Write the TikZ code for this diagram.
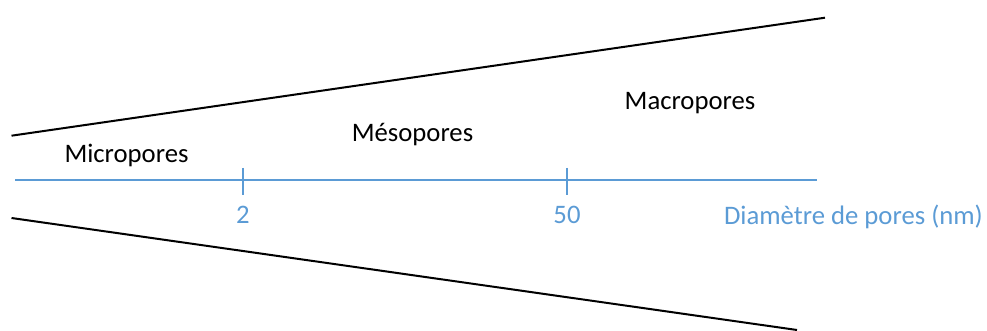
\documentclass[tikz,border=0pt]{standalone}
\usepackage{fontspec}
\setmainfont{Carlito}
\definecolor{axisblue}{HTML}{5B9BD5}
\tikzset{
  blackline/.style={draw=black, line width=2pt},
  axisline/.style={draw=axisblue, line width=1.8pt},
  lbl/.style={anchor=base, inner sep=0pt, font=\fontsize{26.7}{30}\selectfont},
  bluelbl/.style={lbl, text=axisblue},
}
\begin{document}
\begin{tikzpicture}[x=1pt,y=-1pt]
\useasboundingbox (0,0) rectangle (987,331);
\coordinate (tl) at (11.5,135.7);
\coordinate (tr) at (825,17.7);
\coordinate (bl) at (11.5,218);
\coordinate (br) at (797,330);
\coordinate (al) at (15,180);
\coordinate (ar) at (817,180);
\coordinate (t1a) at (243,168);
\coordinate (t1b) at (243,195);
\coordinate (t2a) at (567,168);
\coordinate (t2b) at (567,195);
\draw[blackline] (tl) -- (tr);
\draw[blackline] (bl) -- (br);
\draw[axisline] (al) -- (ar);
\draw[axisline] (t1a) -- (t1b);
\draw[axisline] (t2a) -- (t2b);
\node[lbl] (micro) at (126.5,162.7) {Micropores};
\node[lbl] (meso) at (412.5,141.7) {Mésopores};
\node[lbl] (macro) at (690,110) {Macropores};
\node[bluelbl] (n2) at (243,223.3) {2};
\node[bluelbl] (n50) at (567,223.3) {50};
\node[bluelbl, anchor=base east] (diam) at (983,224) {Diamètre de pores (nm)};
\end{tikzpicture}
\end{document}
